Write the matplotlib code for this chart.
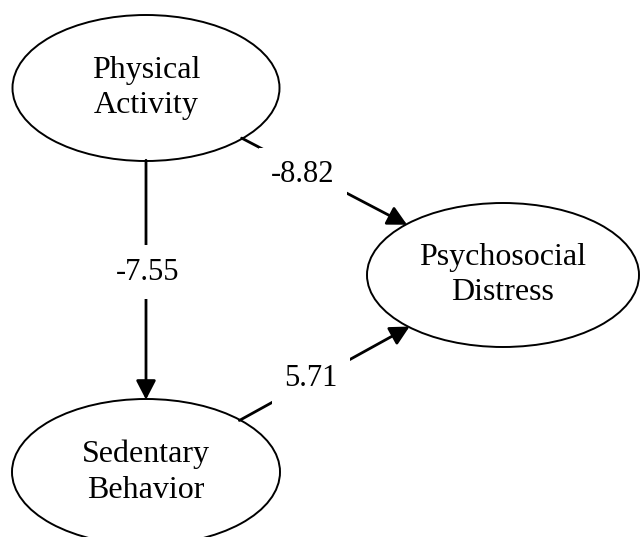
import matplotlib
matplotlib.use("Agg")
import matplotlib.pyplot as plt
from matplotlib.patches import Ellipse, FancyArrowPatch, ArrowStyle

# nodes of the path model
node_ids = ["pa", "sb", "pd"]
node_labels = ["Physical\nActivity", "Sedentary\nBehavior", "Psychosocial\nDistress"]

# directed paths and their coefficients
path_from = ["pa", "pa", "sb"]
path_to = ["sb", "pd", "pd"]
path_coef = ["-7.55", "-8.82", "5.71"]

# layout in pixel space (x right, y down)
centers = {"pa": (146, 88), "sb": (146, 472), "pd": (503, 275)}
sizes = {"pa": (267, 146), "sb": (268, 146), "pd": (272, 144)}
label_pos = [(148, 272), (303, 175), (311, 378)]

W, H = 642, 537
fig = plt.figure(figsize=(W / 100, H / 100), dpi=100)
ax = fig.add_axes([0, 0, 1, 1])
ax.set_xlim(0, W)
ax.set_ylim(H, 0)
ax.set_aspect("equal")
ax.axis("off")

serif = ["Liberation Serif", "DejaVu Serif"]

patches = {}
for nid, label in zip(node_ids, node_labels):
    w, h = sizes[nid]
    e = Ellipse(centers[nid], w, h, facecolor="white", edgecolor="black", lw=1.4, zorder=2)
    ax.add_patch(e)
    patches[nid] = e
    ax.text(*centers[nid], label, ha="center", va="center", fontsize=23,
            family=serif, linespacing=1.3, zorder=4)

style = ArrowStyle("-|>", head_length=0.58, head_width=0.3)
for src, dst, coef, pos in zip(path_from, path_to, path_coef, label_pos):
    arrow = FancyArrowPatch(centers[src], centers[dst], arrowstyle=style, mutation_scale=20,
                            patchA=patches[src], patchB=patches[dst], shrinkA=0, shrinkB=0,
                            color="black", lw=2.0, zorder=3)
    ax.add_patch(arrow)
    ax.text(*pos, coef, ha="center", va="center", fontsize=22, family=serif, zorder=5,
            bbox=dict(facecolor="white", edgecolor="none", pad=9))

fig.savefig("out.png", dpi=100)
